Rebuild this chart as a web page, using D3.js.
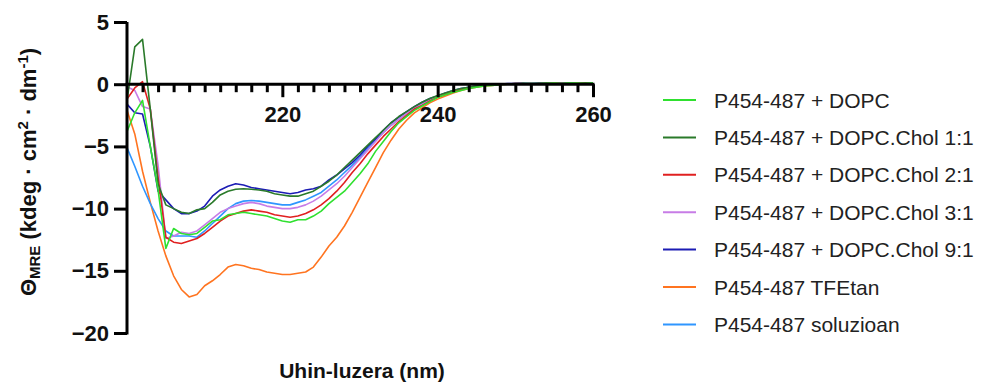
<!DOCTYPE html>
<html>
<head>
<meta charset="utf-8">
<script src="https://cdn.jsdelivr.net/npm/d3@7"></script>
<style>
  body { margin: 0; background: #fff; }
  svg { font-family: Arial, "Liberation Sans", sans-serif; }
</style>
</head>
<body>
<div id="chart"></div>
<script>
// wavelengths (nm), 1 nm step
const wavelengths = [
  200, 201, 202, 203, 204, 205, 206, 207, 208, 209,
  210, 211, 212, 213, 214, 215, 216, 217, 218, 219,
  220, 221, 222, 223, 224, 225, 226, 227, 228, 229,
  230, 231, 232, 233, 234, 235, 236, 237, 238, 239,
  240, 241, 242, 243, 244, 245, 246, 247, 248, 249,
  250, 251, 252, 253, 254, 255, 256, 257, 258, 259, 260];

const dopc = [
  -3.8, -2.3, -1.3, -5.0, -8.5, -13.2, -11.6, -12.0, -12.1, -12.0,
  -11.5, -11.0, -10.9, -10.5, -10.4, -10.3, -10.4, -10.5, -10.6, -10.8,
  -11.0, -11.1, -10.9, -10.9, -10.6, -10.2, -9.6, -9.1, -8.6, -7.9,
  -7.2, -6.4, -5.4, -4.6, -3.8, -3.1, -2.6, -2.1, -1.75, -1.4,
  -1.05, -0.85, -0.65, -0.5, -0.35, -0.25, -0.15, -0.1, -0.05, 0.0,
  0.0, 0.05, 0.05, 0.05, 0.05, 0.1, 0.05, 0.1, 0.1, 0.05, 0.1];
const chol11 = [
  -1.3, 3.0, 3.6, -2.0, -8.0, -9.7, -10.0, -10.3, -10.4, -10.1,
  -10.0, -9.5, -8.9, -8.6, -8.45, -8.4, -8.45, -8.5, -8.6, -8.8,
  -8.9, -9.0, -9.0, -8.8, -8.6, -8.2, -7.8, -7.3, -6.7, -6.1,
  -5.5, -4.9, -4.3, -3.7, -3.1, -2.6, -2.2, -1.8, -1.45, -1.15,
  -0.9, -0.7, -0.5, -0.35, -0.25, -0.15, -0.1, -0.05, 0.0, 0.0,
  0.05, 0.05, 0.05, 0.05, 0.1, 0.05, 0.05, 0.1, 0.05, 0.1, 0.1];
const chol21 = [
  -1.2, -0.3, 0.2, -2.0, -7.5, -12.3, -12.7, -12.8, -12.6, -12.4,
  -12.0, -11.5, -11.0, -10.6, -10.4, -10.2, -10.1, -10.2, -10.3, -10.5,
  -10.6, -10.7, -10.6, -10.4, -10.1, -9.7, -9.2, -8.6, -7.9, -7.1,
  -6.4, -5.6, -4.9, -4.2, -3.6, -3.0, -2.5, -2.0, -1.7, -1.35,
  -1.05, -0.8, -0.6, -0.45, -0.3, -0.2, -0.12, -0.05, 0.0, 0.0,
  0.05, 0.05, 0.0, 0.05, 0.05, 0.1, 0.05, 0.05, 0.1, 0.1, 0.05];
const chol31 = [
  -0.2, -0.5, -1.8, -2.0, -6.5, -12.4, -12.2, -11.9, -12.0, -11.8,
  -11.3, -10.8, -10.3, -10.0, -9.8, -9.6, -9.5, -9.6, -9.8, -9.9,
  -10.0, -10.0, -9.9, -9.7, -9.4, -9.0, -8.5, -8.0, -7.4, -6.7,
  -6.0, -5.3, -4.6, -3.9, -3.3, -2.8, -2.35, -1.95, -1.6, -1.3,
  -1.0, -0.75, -0.55, -0.4, -0.3, -0.2, -0.1, -0.05, 0.0, 0.05,
  0.05, 0.05, 0.1, 0.05, 0.05, 0.05, 0.1, 0.05, 0.1, 0.05, 0.1];
const chol91 = [
  -1.6, -2.3, -2.4, -5.0, -8.6, -9.3, -10.0, -10.4, -10.4, -10.2,
  -9.8, -9.0, -8.5, -8.2, -8.0, -8.1, -8.3, -8.4, -8.5, -8.6,
  -8.7, -8.8, -8.7, -8.5, -8.4, -8.2, -7.7, -7.3, -6.8, -6.3,
  -5.7, -5.0, -4.4, -3.7, -3.1, -2.65, -2.2, -1.8, -1.45, -1.15,
  -0.95, -0.7, -0.5, -0.35, -0.25, -0.15, -0.1, -0.05, 0.0, 0.0,
  0.05, 0.05, 0.05, 0.1, 0.05, 0.05, 0.1, 0.05, 0.05, 0.1, 0.05];
const tfe = [
  -2.1, -4.0, -7.0, -9.5, -11.8, -13.8, -15.4, -16.5, -17.1, -16.9,
  -16.2, -15.8, -15.3, -14.7, -14.5, -14.6, -14.8, -14.9, -15.1, -15.2,
  -15.3, -15.3, -15.2, -15.1, -14.7, -13.9, -13.0, -12.3, -11.4, -10.3,
  -9.1, -7.9, -6.7, -5.5, -4.5, -3.6, -2.9, -2.3, -1.9, -1.5,
  -1.2, -0.95, -0.7, -0.5, -0.35, -0.25, -0.15, -0.1, -0.05, 0.0,
  0.0, 0.05, 0.05, 0.0, 0.05, 0.05, 0.05, 0.1, 0.05, 0.1, 0.1];
const soluzioan = [
  -5.1, -6.6, -8.2, -9.6, -10.8, -11.8, -12.2, -12.2, -12.2, -12.3,
  -11.8, -11.2, -10.6, -10.0, -9.6, -9.4, -9.35, -9.4, -9.5, -9.6,
  -9.7, -9.7, -9.5, -9.3, -9.0, -8.7, -8.2, -7.7, -7.1, -6.5,
  -5.9, -5.2, -4.5, -3.9, -3.3, -2.8, -2.35, -1.95, -1.6, -1.3,
  -1.0, -0.8, -0.6, -0.45, -0.3, -0.2, -0.1, -0.05, 0.0, 0.05,
  0.05, 0.1, 0.05, 0.1, 0.05, 0.1, 0.1, 0.05, 0.1, 0.1, 0.1];

const seriesNames = [
  'P454-487 + DOPC',
  'P454-487 + DOPC.Chol 1:1',
  'P454-487 + DOPC.Chol 2:1',
  'P454-487 + DOPC.Chol 3:1',
  'P454-487 + DOPC.Chol 9:1',
  'P454-487 TFEtan',
  'P454-487 soluzioan'];
const seriesValues = [dopc, chol11, chol21, chol31, chol91, tfe, soluzioan];
const seriesColors = ['#2fe02f', '#2a7a2a', '#e02020', '#c77ce6', '#1c1cb4', '#ff7420', '#2f96ff'];

const yTicks = [5, 0, -5, -10, -15, -20];
const xTickLabels = [220, 240, 260];
const xMinorTicks = [202, 204, 206, 208, 210, 212, 214, 216, 218, 222, 224, 226, 228, 230,
  232, 234, 236, 238, 242, 244, 246, 248, 250, 252, 254, 256, 258];

const width = 989, height = 384;
const svg = d3.select('#chart').append('svg')
  .attr('width', width)
  .attr('height', height);

// scales
const xScale = d3.scaleLinear().domain([200, 260]).range([127, 593]);
const yScale = d3.scaleLinear().domain([-20, 5]).range([333, 22]);

const line = d3.line()
  .x((d, i) => xScale(wavelengths[i]))
  .y(d => yScale(d));

// draw order so that the DOPC curve ends up on top
const drawOrder = [5, 6, 4, 3, 2, 1, 0];
svg.append('g').selectAll('path')
  .data(drawOrder)
  .enter().append('path')
  .attr('d', k => line(seriesValues[k]))
  .attr('fill', 'none')
  .attr('stroke', k => seriesColors[k])
  .attr('stroke-width', 1.6)
  .attr('stroke-linejoin', 'round');

function styleLabels(g) {
  g.selectAll('.tick text')
    .attr('font-size', 22).attr('font-weight', 'bold').attr('fill', '#111')
    .attr('font-family', 'Arial, "Liberation Sans", sans-serif');
}

// y axis
const yAxis = svg.append('g')
  .attr('transform', 'translate(' + xScale(200) + ',0)')
  .call(d3.axisLeft(yScale).tickValues(yTicks).tickSize(13).tickPadding(5));
yAxis.select('.domain').attr('stroke-width', 3).attr('d', 'M0,' + yScale(5) + 'V' + (yScale(-20) + 1.5));
yAxis.selectAll('.tick line').attr('stroke-width', 3);
styleLabels(yAxis);

// x axis drawn on y = 0, minor ticks every 2 nm
const x0 = yScale(0);
const xMinor = svg.append('g')
  .attr('transform', 'translate(0,' + x0 + ')')
  .call(d3.axisBottom(xScale).tickValues(xMinorTicks).tickSize(8).tickFormat(''));
xMinor.select('.domain').remove();
xMinor.selectAll('.tick line').attr('stroke-width', 3);

const xAxis = svg.append('g')
  .attr('transform', 'translate(0,' + x0 + ')')
  .call(d3.axisBottom(xScale).tickValues(xTickLabels).tickSize(13).tickPadding(9));
xAxis.select('.domain').attr('stroke-width', 3).attr('d', 'M' + (xScale(200) - 1.5) + ',0H' + (xScale(260) + 1.5));
xAxis.selectAll('.tick line').attr('stroke-width', 3);
styleLabels(xAxis);

// axis titles
const yTitle = svg.append('text')
  .attr('transform', 'translate(36,172) rotate(-90)')
  .attr('text-anchor', 'middle')
  .attr('font-size', 22).attr('font-weight', 'bold').attr('fill', '#111');
yTitle.append('tspan').text('Θ');
yTitle.append('tspan').attr('font-size', 15).attr('dy', 4).text('MRE');
yTitle.append('tspan').attr('dy', -4).text(' (kdeg · cm');
yTitle.append('tspan').attr('font-size', 15).attr('dy', -8).text('2');
yTitle.append('tspan').attr('dy', 8).text(' · dm');
yTitle.append('tspan').attr('font-size', 15).attr('dy', -8).text('-1');
yTitle.append('tspan').attr('dy', 8).text(')');

svg.append('text')
  .attr('x', 362).attr('y', 378)
  .attr('text-anchor', 'middle')
  .attr('font-size', 21).attr('font-weight', 'bold').attr('fill', '#111')
  .text('Uhin-luzera (nm)');

// legend
const legend = svg.append('g').selectAll('g')
  .data(seriesNames)
  .enter().append('g')
  .attr('transform', (d, i) => 'translate(663,' + (100 + i * 37.4) + ')');
legend.append('line')
  .attr('x1', 0).attr('x2', 33).attr('y1', 0).attr('y2', 0)
  .attr('stroke', (d, i) => seriesColors[i])
  .attr('stroke-width', 2);
legend.append('text')
  .attr('x', 51).attr('y', 0).attr('dy', '0.36em')
  .attr('font-size', 21).attr('fill', '#222')
  .text(d => d);
</script>
</body>
</html>
